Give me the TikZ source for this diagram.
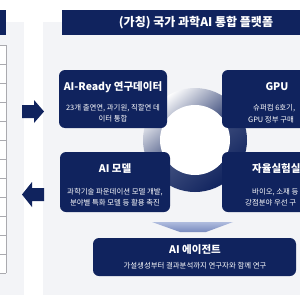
\documentclass[tikz,border=0pt]{standalone}
\usepackage{fontspec}
\setmainfont{Noto Sans CJK KR}
\usetikzlibrary{shapes.geometric}
\definecolor{navy}{RGB}{16,35,94}
\definecolor{panelgray}{RGB}{243,244,247}
\definecolor{linegray}{RGB}{170,170,175}
\definecolor{chev}{RGB}{120,138,190}
\definecolor{chevlight}{RGB}{175,188,222}
\tikzset{
  navybox/.style={fill=navy, rounded corners=6pt},
  boxtitle/.style={text=white, font=\fontsize{10.5}{12}\selectfont\bfseries, inner sep=0pt},
  boxsub/.style={text=white, font=\fontsize{7.4}{9}\selectfont, inner sep=0pt},
  bartitle/.style={text=white, font=\fontsize{12}{14}\selectfont\bfseries, inner sep=0pt},
  blockarrow/.style={fill=navy},
}
\begin{document}
\begin{tikzpicture}[x=1pt,y=-1pt]
\useasboundingbox (0,0) rectangle (300,300);
\clip (0,0) rectangle (300,300);
% panels
\fill[panelgray] (0,22) rectangle (24,295);
\fill[panelgray] (43,22) rectangle (300,295);
% left panel
\fill[navy] (0,10) rectangle (6,35);
\fill[white] (-2,45) rectangle (6,273);
\draw[linegray, line width=0.5pt] (6,45) -- (6,273);
\foreach \yy in {45,64,83,102,121,140,159,178,197,216,235,254,273}
  \draw[linegray, line width=0.5pt] (-2,\yy) -- (6,\yy);
% arrows
\fill[blockarrow] (22,105) -- (34,105) -- (34,100) -- (44,111.5) -- (34,123) -- (34,118) -- (22,118) -- cycle;
\fill[blockarrow] (44,188) -- (32,188) -- (32,182) -- (22,194.5) -- (32,207) -- (32,201) -- (44,201) -- cycle;
% right title bar
\fill[navy] (62,10) rectangle (330,35);
\node[bartitle] (title) at (196,22.5) {(가칭) 국가 과학AI 통합 플랫폼};
% ring
\shade[shading=axis, top color=white, bottom color=navy, middle color=navy!80, shading angle=40] (195,140) circle (52pt);
\fill[white] (195,140) circle (35pt);
% boxes
\fill[navybox] (59,70) rectangle (167,128);
\node[boxtitle] (b1t) at (113,87) {AI-Ready 연구데이터};
\node[boxsub] (b1s1) at (113,108) {23개 출연연, 과기원, 직할연 데};
\node[boxsub] (b1s2) at (113,119) {이터 통합};
\fill[navybox] (222,70) rectangle (340,128);
\node[boxtitle] (b2t) at (277,87) {GPU};
\node[boxsub, anchor=west] (b2s1) at (253,108) {슈퍼컴 6호기,};
\node[boxsub, anchor=west] (b2s2) at (248,119.5) {GPU 정부 구매};
\fill[navybox] (60,152) rectangle (170,212);
\node[boxtitle] (b3t) at (115,169) {AI 모델};
\node[boxsub] (b3s1) at (115,192) {과학기술 파운데이션 모델 개발,};
\node[boxsub] (b3s2) at (115,203) {분야별 특화 모델 등 활용 촉진};
\fill[navybox] (222,152) rectangle (340,212);
\node[boxtitle, anchor=west] (b4t) at (252,169) {자율실험실};
\node[boxsub, anchor=west] (b4s1) at (252,192) {바이오, 소재 등};
\node[boxsub, anchor=west] (b4s2) at (245,203) {강점분야 우선 구};
% chevron
\shade[top color=chevlight, bottom color=chev] (152,222) -- (233,222) -- (206,232) -- (180,232) -- cycle;
% agent box
\fill[navybox] (93,238) rectangle (296,276);
\node[boxtitle] (b5t) at (195,250) {AI 에이전트};
\node[boxsub] (b5s) at (195,266) {가설생성부터 결과분석까지 연구자와 함께 연구};
\end{tikzpicture}
\end{document}
